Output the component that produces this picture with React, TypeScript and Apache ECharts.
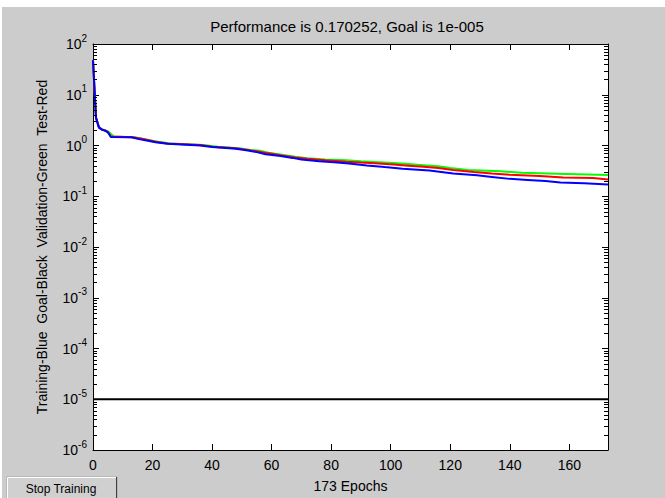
import React, { useEffect, useRef } from "react";
import * as echarts from "echarts";

const titleText = "Performance is 0.170252, Goal is 1e-005";
const yAxisTitle = "Training-Blue  Goal-Black  Validation-Green  Test-Red";
const xAxisTitle = "173 Epochs";
const buttonLabel = "Stop Training";

const epochCount = 173;
const xTickStep = 20;
const yMin = 1e-6;
const yMax = 1e2;
const goalValue = 1e-5;
const minorMultipliers = [2, 3, 4, 5, 6, 7, 8, 9];
const minorDecades = [-6, -5, -4, -3, -2, -1, 0, 1];

const trainingPerf: [number, number][] = [
  [0, 48], [1, 3.5], [2, 2.25], [3, 2.05], [4, 1.97], [5, 1.82], [6, 1.47], [13, 1.45],
  [15, 1.35], [18, 1.25], [21, 1.16], [25, 1.08], [36, 1.0], [40, 0.93], [48, 0.86],
  [52, 0.8], [55, 0.74], [58, 0.67], [63, 0.62], [67, 0.57], [70, 0.53], [76, 0.49],
  [81, 0.47], [86, 0.44], [92, 0.405], [98, 0.376], [104, 0.35], [113, 0.32], [117, 0.3],
  [121, 0.28], [129, 0.258], [134, 0.24], [140, 0.22], [146, 0.21], [152, 0.2],
  [157, 0.186], [165, 0.18], [173, 0.170252],
];

const validationPerf: [number, number][] = [
  [0, 48], [1, 3.6], [2, 2.3], [3, 2.08], [4, 2.0], [5, 1.9], [7, 1.5], [14, 1.46],
  [16, 1.37], [19, 1.27], [22, 1.18], [26, 1.1], [37, 1.02], [42, 0.95], [49, 0.88],
  [53, 0.82], [56, 0.79], [59, 0.72], [64, 0.65], [68, 0.6], [72, 0.56], [78, 0.53],
  [85, 0.51], [90, 0.49], [96, 0.47], [101, 0.45], [106, 0.43], [111, 0.41], [116, 0.39],
  [120, 0.36], [126, 0.33], [137, 0.31], [144, 0.29], [159, 0.275], [173, 0.262],
];

const testPerf: [number, number][] = [
  [0, 48], [1, 3.55], [2, 2.28], [3, 2.06], [4, 1.98], [5, 1.85], [6, 1.5], [13, 1.46],
  [16, 1.38], [18, 1.3], [21, 1.19], [25, 1.1], [36, 1.02], [40, 0.95], [48, 0.88],
  [52, 0.82], [55, 0.77], [59, 0.7], [63, 0.64], [68, 0.58], [72, 0.55], [78, 0.51],
  [85, 0.48], [90, 0.46], [96, 0.44], [101, 0.42], [106, 0.4], [111, 0.38], [116, 0.36],
  [121, 0.33], [128, 0.3], [134, 0.28], [140, 0.265], [150, 0.25], [158, 0.235],
  [168, 0.228], [173, 0.215],
];

const goalLine: [number, number][] = [
  [0, goalValue],
  [epochCount, goalValue],
];

const FONT = '"Liberation Sans", Arial, sans-serif';
const BG = "#cccccc";

function baseGraphics(): any[] {
  return [
    {
      type: "rect",
      z: -100,
      silent: true,
      shape: { x: 2, y: 7, width: 663, height: 491 },
      style: { fill: BG },
    },
    {
      type: "text",
      x: 347,
      y: 26,
      style: {
        text: titleText,
        fill: "#000",
        font: `15px ${FONT}`,
        align: "center",
        verticalAlign: "middle",
      },
    },
    {
      type: "rect",
      shape: { x: 7, y: 477, width: 110, height: 25 },
      style: { fill: "#d0d0d0", stroke: "#a0a0a0", lineWidth: 1 },
    },
    {
      type: "line",
      shape: { x1: 7.5, y1: 477.5, x2: 116, y2: 477.5 },
      style: { stroke: "#ffffff", lineWidth: 1 },
    },
    {
      type: "line",
      shape: { x1: 7.5, y1: 477.5, x2: 7.5, y2: 498 },
      style: { stroke: "#ffffff", lineWidth: 1 },
    },
    {
      type: "line",
      shape: { x1: 116.5, y1: 477, x2: 116.5, y2: 498 },
      style: { stroke: "#404040", lineWidth: 1 },
    },
    {
      type: "text",
      x: 61,
      y: 489,
      style: {
        text: buttonLabel,
        fill: "#000",
        font: `12px ${FONT}`,
        align: "center",
        verticalAlign: "middle",
      },
    },
  ];
}

export default function App() {
  const ref = useRef<HTMLDivElement>(null);

  useEffect(() => {
    if (!ref.current) return;
    const chart = echarts.init(ref.current, undefined, { renderer: "svg" });

    const axisLineStyle = { color: "#000", width: 1 };
    const tickStyle = { show: true, inside: true, length: 6, lineStyle: { color: "#000", width: 1 } };
    const xAxisCommon = {
      type: "value",
      min: 0,
      max: epochCount,
      interval: xTickStep,
      splitLine: { show: false },
      axisLine: { show: true, onZero: false, lineStyle: axisLineStyle },
      axisTick: tickStyle,
    };
    const yAxisCommon = {
      type: "log",
      logBase: 10,
      min: yMin,
      max: yMax,
      splitNumber: 8,
      splitLine: { show: false },
      axisLine: { show: true, onZero: false, lineStyle: axisLineStyle },
      axisTick: tickStyle,
    };

    const option: any = {
      animation: false,
      backgroundColor: "#ffffff",
      graphic: baseGraphics(),
      grid: {
        left: 93,
        right: 57,
        top: 44,
        bottom: 48,
        show: true,
        backgroundColor: "#ffffff",
        borderWidth: 0,
      },
      xAxis: [
        {
          ...xAxisCommon,
          position: "bottom",
          axisLabel: {
            color: "#000",
            fontFamily: FONT,
            fontSize: 14,
            margin: 8,
            formatter: (v: number) => (v % xTickStep === 0 ? String(v) : ""),
          },
          name: xAxisTitle,
          nameLocation: "middle",
          nameGap: 29,
          nameTextStyle: { color: "#000", fontFamily: FONT, fontSize: 14 },
        },
        {
          ...xAxisCommon,
          position: "top",
          axisLabel: { show: false },
        },
      ],
      yAxis: [
        {
          ...yAxisCommon,
          position: "left",
          axisLabel: {
            margin: 6,
            formatter: (v: number) => `{b|10}{s|${Math.round(Math.log10(v))}}`,
            rich: {
              b: { color: "#000", fontFamily: FONT, fontSize: 14 },
              s: { color: "#000", fontFamily: FONT, fontSize: 10, padding: [0, 0, 12, 0] },
            },
          },
          name: yAxisTitle,
          nameLocation: "middle",
          nameGap: 44,
          nameRotate: 90,
          nameTextStyle: { color: "#000", fontFamily: FONT, fontSize: 14 },
        },
        {
          ...yAxisCommon,
          position: "right",
          axisLabel: { show: false },
        },
      ],
      series: [
        {
          name: "Goal",
          type: "line",
          data: goalLine,
          showSymbol: false,
          symbol: "none",
          lineStyle: { color: "#000000", width: 2 },
          silent: true,
        },
        {
          name: "Validation",
          type: "line",
          data: validationPerf,
          showSymbol: false,
          symbol: "none",
          lineStyle: { color: "#00ff00", width: 2 },
          silent: true,
        },
        {
          name: "Test",
          type: "line",
          data: testPerf,
          showSymbol: false,
          symbol: "none",
          lineStyle: { color: "#ff0000", width: 2 },
          silent: true,
        },
        {
          name: "Training",
          type: "line",
          data: trainingPerf,
          showSymbol: false,
          symbol: "none",
          lineStyle: { color: "#0000ff", width: 2 },
          silent: true,
        },
      ],
    };

    chart.setOption(option);

    // minor log ticks (2..9 per decade), positioned through the y axis scale
    const xLeft = chart.convertToPixel({ xAxisIndex: 0 }, 0) as number;
    const xRight = chart.convertToPixel({ xAxisIndex: 0 }, epochCount) as number;
    const minor: any[] = [];
    minorDecades.forEach((e) => {
      minorMultipliers.forEach((m) => {
        const y = chart.convertToPixel({ yAxisIndex: 0 }, m * Math.pow(10, e)) as number;
        const yy = Math.round(y) + 0.5;
        minor.push({
          type: "line",
          silent: true,
          z: 50,
          shape: { x1: xLeft, y1: yy, x2: xLeft + 4, y2: yy },
          style: { stroke: "#000", lineWidth: 1 },
        });
        minor.push({
          type: "line",
          silent: true,
          z: 50,
          shape: { x1: xRight - 4, y1: yy, x2: xRight, y2: yy },
          style: { stroke: "#000", lineWidth: 1 },
        });
      });
    });
    chart.setOption({ graphic: [...baseGraphics(), ...minor] });

    return () => chart.dispose();
  }, []);

  return (
    <div
      ref={ref}
      style={{ position: "fixed", left: 0, top: 0, width: 665, height: 498 }}
    />
  );
}
